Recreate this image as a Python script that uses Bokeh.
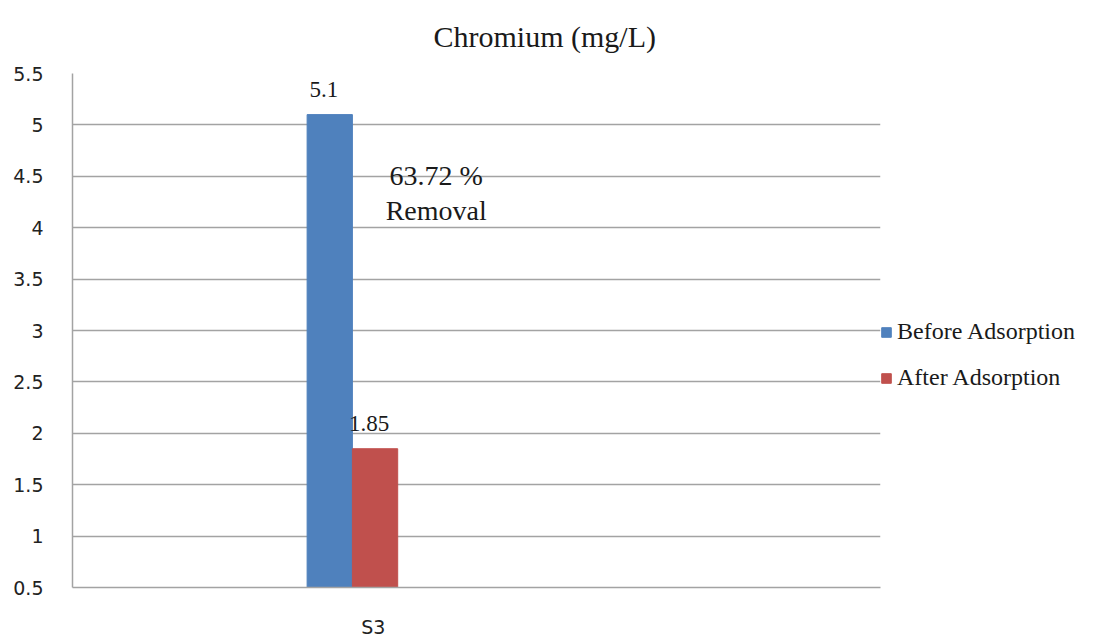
from bokeh.plotting import figure
from bokeh.models import (ColumnDataSource, Range1d, FixedTicker, Legend, LegendItem,
                          Label, Title)
from bokeh.embed import file_html
from bokeh.resources import INLINE

# ---- data ----
categories = ["S3"]
series = ["Before Adsorption", "After Adsorption"]
before_values = [5.1]
after_values = [1.85]
series_colors = ["#4F81BD", "#C0504D"]
y_ticks = [0.5, 1, 1.5, 2, 2.5, 3, 3.5, 4, 4.5, 5, 5.5]
y_tick_labels = ["0.5", "1", "1.5", "2", "2.5", "3", "3.5", "4", "4.5", "5", "5.5"]
removal_text = "63.72 %\nRemoval"
title_text = "Chromium (mg/L)"

SERIF = "Liberation Serif"
SANS = "DejaVu Sans"
GRID = "#a3a3a3"

p = figure(width=1099, height=639, frame_width=808, frame_height=514,
           output_backend="svg", toolbar_location=None,
           x_range=Range1d(-6.18, 11.66), y_range=Range1d(0.5, 5.5),
           min_border_left=72, min_border_right=219, min_border_top=73,
           min_border_bottom=52, outline_line_color=None)

p.title = Title(text=title_text, text_font=SERIF, text_font_size="30px",
                text_font_style="normal", text_color="#1a1a1a", align="left",
                vertical_align="top", offset=361, standoff=37)

# bars: each series sits beside the category centre
cat_index = list(range(len(categories)))
bar_w = 1.0
src_before = ColumnDataSource(dict(x=[i - bar_w / 2 for i in cat_index], top=before_values,
                                   lbl=[f"{v:g}" for v in before_values]))
src_after = ColumnDataSource(dict(x=[i + bar_w / 2 for i in cat_index], top=after_values,
                                  lbl=[f"{v:g}" for v in after_values]))

r_before = p.vbar(x="x", top="top", bottom=0, width=bar_w, source=src_before,
                  fill_color=series_colors[0], line_color=series_colors[0])
r_after = p.vbar(x="x", top="top", bottom=0, width=bar_w, source=src_after,
                 fill_color=series_colors[1], line_color=series_colors[1])

# value labels above bars
for src in (src_before, src_after):
    p.text(x="x", y="top", text="lbl", source=src, text_align="center",
           text_baseline="bottom", x_offset=-6, y_offset=-18, text_font={"value": SERIF},
           text_font_size="23px", text_color="#1a1a1a")

# removal annotation
p.add_layout(Label(x=1.85, y=4.34, text=removal_text, text_align="center",
                   text_baseline="middle", text_font=SERIF, text_font_size="28px",
                   text_color="#1a1a1a", text_line_height=1.12))

# axes
p.yaxis.ticker = FixedTicker(ticks=y_ticks)
p.yaxis.major_label_overrides = {t: l for t, l in zip(y_ticks, y_tick_labels)}
p.yaxis.major_label_text_font = SANS
p.yaxis.major_label_text_font_size = "19px"
p.yaxis.major_label_text_color = "#222222"
p.yaxis.major_label_standoff = 23
p.yaxis.major_tick_line_color = None
p.yaxis.minor_tick_line_color = None
p.yaxis.axis_line_color = GRID
p.yaxis.axis_line_width = 1.5

label_shift = 0.46
x_ticks = [i + label_shift for i in cat_index]
p.xaxis.ticker = FixedTicker(ticks=x_ticks)
p.xaxis.major_label_overrides = {t: c for t, c in zip(x_ticks, categories)}
p.xaxis.major_label_text_font = SANS
p.xaxis.major_label_text_font_size = "19px"
p.xaxis.major_label_text_color = "#222222"
p.xaxis.major_label_standoff = 22
p.xaxis.major_tick_line_color = None
p.xaxis.minor_tick_line_color = None
p.xaxis.axis_line_color = GRID
p.xaxis.axis_line_width = 1.5

p.xgrid.grid_line_color = None
p.ygrid.grid_line_color = GRID
p.ygrid.grid_line_width = 1.5

# legend in the right-hand panel
legend = Legend(items=[LegendItem(label=series[0], renderers=[r_before]),
                       LegendItem(label=series[1], renderers=[r_after])],
                location=(0, 196), orientation="vertical",
                label_text_font=SERIF, label_text_font_size="24px",
                label_text_color="#1a1a1a", glyph_width=12, glyph_height=12,
                label_standoff=5, label_height=26, spacing=19, padding=0, margin=0,
                border_line_color=None, background_fill_alpha=0)
p.add_layout(legend, "right")

open("out.html", "w").write(file_html(p, INLINE))
